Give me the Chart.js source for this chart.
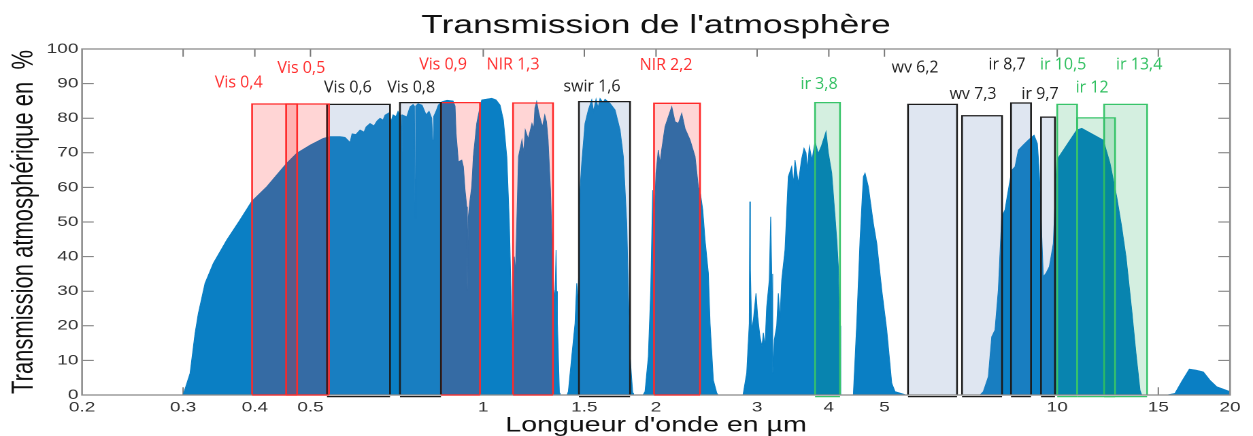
<!DOCTYPE html>
<html>
<head>
<meta charset="utf-8">
<script src="https://cdn.jsdelivr.net/npm/chart.js@4/dist/chart.umd.min.js"></script>
<style>
html,body{margin:0;padding:0;background:#fff;overflow:hidden}
#c{display:block;width:1253px !important;height:436px !important}
</style>
</head>
<body>
<canvas id="c" width="921" height="436" style="width:1253px;height:436px"></canvas>
<script>
// ---------------- DATA ----------------
const wavelengths = [
0.2,0.3,0.3085,0.3147,0.3189,0.3276,0.3387,0.3574,0.3769,0.3951,0.4196,0.4546,0.4732,0.5,0.5265,0.5409,
0.5630,0.5743,0.5861,0.5908,0.6,0.6100,0.6199,0.6250,0.6350,0.6452,0.6531,0.6610,0.6690,0.6744,0.6853,0.6908,0.6964,0.7048,0.7104,0.7162,
0.7197,0.7211,0.7225,0.7357,0.7455,0.7546,0.7588,0.7606,0.7625,0.7698,0.7823,0.7950,0.8046,0.8133,0.8166,0.8199,0.8275,0.8352,0.8477,0.8648,
0.8859,0.8930,0.8966,0.9050,0.9174,0.9233,0.9296,0.9359,0.9382,0.9420,0.9484,0.9549,0.9611,0.9676,0.9742,0.9873,0.9940,
1.0113,1.0347,1.0527,1.0697,1.0840,1.0989,1.1104,1.1211,1.1256,1.1325,1.1380,1.1520,1.1679,1.1764,1.1836,1.1979,1.2158,1.2246,1.2305,1.2389,
1.2479,1.2543,1.2681,1.2798,1.2886,1.2970,1.3095,1.3200,1.3269,1.3338,1.3392,1.3419,1.3465,1.3573,1.3611,
1.3995,1.4069,1.4262,1.4452,1.4551,1.4627,1.4686,1.4745,1.4845,1.5043,1.5244,1.5453,1.5565,1.5722,1.5848,1.5977,1.6170,1.6300,1.6631,1.6967,
1.7311,1.7541,1.7783,1.7897,1.8020,1.8215,1.8274,
1.8984,1.9137,1.9392,1.9579,1.9738,1.9841,2.0,2.0185,2.0323,2.0463,2.0735,2.1011,2.1301,2.1584,2.1872,2.2172,2.2469,2.2923,2.3388,2.3699,
2.3908,2.4122,2.4346,2.4670,2.4839,2.5170,2.5515,2.5649,
2.8350,2.8774,2.9075,2.9134,2.9204,2.9356,2.9569,2.9868,3.0072,3.0350,3.0594,3.0756,3.0966,3.1178,3.1504,3.1681,3.1809,3.1937,3.2143,3.2455,
3.2664,3.2884,3.3112,3.3552,3.3998,3.4464,3.4713,3.4925,3.5392,3.5849,3.6211,3.6502,3.6695,3.6991,3.7393,3.7844,3.8350,3.8845,3.9554,3.9920,
4.0467,4.1009,4.1288,4.1554,4.1754,4.1955,
4.4137,4.4742,4.5337,4.5944,4.6258,4.6872,4.7823,4.8479,4.9463,5.0462,5.1487,5.2171,5.3937,5.45,
7.3357,7.4339,7.5848,7.6887,7.7909,7.8950,8.0032,8.1097,8.2181,8.3331,8.4437,8.5568,8.7298,8.9069,9.1123,9.2330,9.3072,9.3970,9.4573,9.5609,
9.6880,9.8452,9.9800,10.814,11.033,12.029,12.357,12.694,12.950,13.176,13.482,13.716,13.938,14.034,
15.514,16.040,16.477,16.987,17.45,17.969,18.45,18.960,20
];
const transmission = [
0,0,6.3,17.8,23.6,32.3,38.1,44.8,50.6,56,60.2,67.0,69.9,72.3,74.2,74.7,
74.7,74.5,73.0,75.5,75.3,76.6,76.0,77.5,78.5,77.8,79.2,80.0,79.5,80.9,81.6,79.0,81.0,80.5,82.0,80.9,
81.0,70.3,81.0,80.4,83.3,84.0,83.5,51.1,83.5,84.2,83.8,81.0,82.0,80.0,73.7,80.5,82.0,83.8,84.8,85.2,
85.0,83.5,75.6,67.4,67.9,66.0,59.2,54.4,30.3,51.5,56.4,60.2,68.9,73.7,78.5,83.3,85.3,
85.5,85.8,85.3,83.8,79.5,68.9,49.6,20.7,0.6,40.0,35,68.9,73.7,70,76.6,74.0,78.5,77,82.9,84.8,
82.0,80.4,77.5,80.9,79,73.7,59.2,40.0,30.3,28,41.9,30,20.7,0.6,0,
0,1.0,11.1,20.7,32.3,26,40,59.2,67.0,78.5,82.4,85.3,82.0,85.5,83,85.7,84.5,85.5,84.3,82.4,
76.6,68.9,49.6,30.3,11.1,0.6,0,
0,1.0,11.1,30.3,59.2,50,64.1,70.8,67,71.0,77.5,80.4,83.3,79.0,78.5,81.4,77.0,73.7,68.9,60.2,
58,53.5,44.8,35.2,20.7,4.3,0.6,0,
0,6.3,20.7,55.9,36,18.8,22,29.4,22.6,16.8,14,18,14,25.5,33.2,51.5,35,6.3,15.9,20,
29.4,22,33.2,41.9,63.1,66.0,61,67.9,61.2,68,71.3,70,65.0,71.8,68,73.2,69.8,72,76.1,70,
64.1,51.5,45,37.1,20,0,
0,20.7,44.8,63.1,64.1,60.2,49.6,43.8,30.3,18.8,3.4,1.0,0.3,0,
0,1.0,5.3,16.8,18.8,30.3,51.5,53.5,59.2,65.0,66,70.8,72.3,73.7,75.1,72.7,64.1,45.8,34.2,35.2,
37.1,43.8,67.9,76.6,77.1,73.7,67.0,57.3,48.6,40,24.6,12,1.4,0,
0,0.5,3.9,7.5,7.2,6.7,4.3,2.4,1.0
];

const xTickValues = [0.2,0.3,0.4,0.5,1,1.5,2,3,4,5,10,15,20];
const yTickValues = [0,10,20,30,40,50,60,70,80,90,100];

const bandNames = ['Vis 0,4','Vis 0,5','Vis 0,6','Vis 0,8','Vis 0,9','NIR 1,3','swir 1,6','NIR 2,2',
                   'ir 3,8','wv 6,2','wv 7,3','ir 8,7','ir 9,7','ir 10,5','ir 12','ir 13,4'];
const bandStart = [0.3956,0.4535,0.5343,0.716,0.844,1.127,1.468,1.984,3.785,5.496,6.826,8.308,9.37,10.0,10.83,12.07];
const bandEnd   = [0.474,0.5386,0.688,0.844,0.987,1.323,1.802,2.386,4.184,6.690,8.014,9.002,9.91,10.83,12.61,14.34];
const bandTop   = [84.1,84.1,84.0,84.5,84.5,84.4,84.8,84.3,84.5,84.0,80.7,84.4,80.3,84.0,80.1,84.0];
const bandFamily = ['solaire','solaire','autre','autre','solaire','solaire','autre','solaire',
                    'ir','autre','autre','autre','autre','ir','ir','ir'];

// ---------------- LAYOUT / STYLE ----------------
const STRETCH = 1253 / 921;
const labelAnchor = [[0.375,88.9],[0.482,93.0],[0.581,87.4],[0.749,87.4],[0.851,94.1],[1.127,94.1],[1.547,87.7],[2.082,93.9],
                     [3.846,88.4],[5.654,93.2],[7.134,85.5],[8.176,94.1],[9.333,85.5],[10.24,94.1],[11.50,87.5],[13.89,94.1]];
const familyStyle = {
  solaire: {line:'#ff2a2a', fill:'rgba(255,15,15,0.175)', text:'#ff2d2d'},
  autre:   {line:'#1c1c1c', fill:'rgba(86,124,181,0.19)', text:'#1e1e1e'},
  ir:      {line:'#38c46a', fill:'rgba(0,160,70,0.17)', text:'#2fbf5f'}
};
const SANS = "'Liberation Sans', Arial, sans-serif";

const spectrum = wavelengths.map((w,i)=>({x:w, y:transmission[i]}));

const datasets = [];
bandNames.forEach((n,i)=>{
  const st = familyStyle[bandFamily[i]];
  datasets.push({
    label: n,
    data: [{x:bandStart[i],y:0},{x:bandStart[i],y:bandTop[i]},{x:bandEnd[i],y:bandTop[i]},{x:bandEnd[i],y:0}],
    borderColor: st.line, backgroundColor: st.fill, borderWidth: 1.3,
    fill: 'origin', pointRadius: 0, tension: 0, order: 0, borderJoinStyle: 'miter'
  });
});
datasets.push({
  label: 'Transmission',
  data: spectrum,
  borderColor: '#0a7fc4', backgroundColor: '#0a7fc4', borderWidth: 0.6,
  fill: 'origin', pointRadius: 0, tension: 0, order: 5
});

const framePlugin = {
  id: 'frame',
  beforeDatasetsDraw(chart) {
    const {ctx, chartArea: a, scales: {x, y}} = chart;
    ctx.save();
    ctx.strokeStyle = '#777';
    ctx.lineWidth = 1;
    ctx.beginPath();
    xTickValues.slice(1,-1).forEach(v=>{
      const px = x.getPixelForValue(v);
      ctx.moveTo(px, a.bottom); ctx.lineTo(px, a.bottom - 7.7);
      ctx.moveTo(px, a.top); ctx.lineTo(px, a.top + 7.7);
    });
    yTickValues.slice(1,-1).forEach(v=>{
      const py = y.getPixelForValue(v);
      ctx.moveTo(a.left, py); ctx.lineTo(a.left + 8.6, py);
      ctx.moveTo(a.right, py); ctx.lineTo(a.right - 8.6, py);
    });
    ctx.stroke();
    ctx.restore();
  },
  afterDatasetsDraw(chart) {
    const {ctx, chartArea: a, scales: {x, y}} = chart;
    ctx.save();
    ctx.strokeStyle = '#8c8c8c';
    ctx.lineWidth = 1.3;
    ctx.strokeRect(a.left, a.top, a.right - a.left, a.bottom - a.top);
    const y0 = y.getPixelForValue(0);
    bandNames.forEach((n,i)=>{
      const st = familyStyle[bandFamily[i]];
      ctx.strokeStyle = st.line;
      ctx.lineWidth = 1.3;
      const off = bandFamily[i]==='solaire' ? 0 : 1.6;
      ctx.beginPath();
      ctx.moveTo(x.getPixelForValue(bandStart[i]), y0 + off);
      ctx.lineTo(x.getPixelForValue(bandEnd[i]), y0 + off);
      ctx.stroke();
    });
    ctx.font = "16px 'Open Sans', 'Noto Sans', sans-serif";
    ctx.textAlign = 'center';
    ctx.textBaseline = 'alphabetic';
    bandNames.forEach((n,i)=>{
      const px = x.getPixelForValue(labelAnchor[i][0]);
      const py = y.getPixelForValue(labelAnchor[i][1]);
      ctx.save();
      ctx.translate(px, py);
      ctx.scale(1/STRETCH, 1);
      ctx.fillStyle = familyStyle[bandFamily[i]].text;
      ctx.fillText(n, 0, 0);
      ctx.restore();
    });
    ctx.restore();
  }
};

new Chart(document.getElementById('c'), {
  type: 'line',
  data: { datasets },
  plugins: [framePlugin],
  options: {
    responsive: false,
    devicePixelRatio: 2,
    animation: false,
    layout: { padding: { left: 0, right: 16.9, top: 0, bottom: 0 } },
    plugins: {
      legend: { display: false },
      tooltip: { enabled: false },
      title: {
        display: true, fullSize: false,
        text: "Transmission de l'atmosphère",
        color: '#111',
        font: { family: SANS, size: 26, weight: 'normal', lineHeight: 1.2 },
        padding: { top: 10.4, bottom: 7.4 }
      }
    },
    scales: {
      x: {
        type: 'logarithmic', min: 0.2, max: 20,
        afterBuildTicks: (s) => { s.ticks = xTickValues.map(v=>({value:v})); },
        afterFit: (s) => { s.height = 41; },
        grid: { display: false, drawTicks: false, tickLength: 0 },
        border: { display: false },
        ticks: {
          autoSkip: false, maxRotation: 0, padding: 4, color: '#333',
          font: { family: SANS, size: 14 },
          callback: (v) => String(v)
        },
        title: {
          display: true, text: "Longueur d'onde en µm", color: '#111',
          font: { family: SANS, size: 21, lineHeight: 1.0 },
          padding: { top: 0, bottom: 0 }
        }
      },
      y: {
        min: 0, max: 100,
        afterBuildTicks: (s) => { s.ticks = yTickValues.map(v=>({value:v})); },
        afterFit: (s) => { s.width = 60.3; },
        grid: { display: false, drawTicks: false, tickLength: 0 },
        border: { display: false },
        ticks: { padding: 2.7, color: '#333', font: { family: SANS, size: 14 } },
        title: {
          display: true, text: 'Transmission atmosphérique en  %', color: '#111',
          font: { family: SANS, size: 22, lineHeight: 1.2 },
          padding: { top: 4.5, bottom: 0 }
        }
      }
    }
  }
});
</script>
</body>
</html>
